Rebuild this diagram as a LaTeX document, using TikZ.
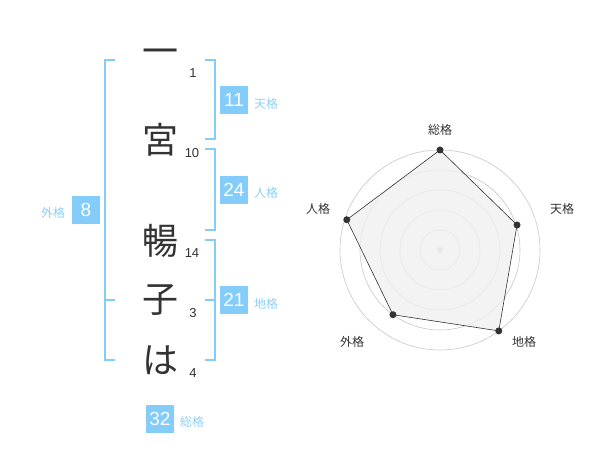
\documentclass[tikz,border=0pt]{standalone}
\usepackage{fontspec}
\setmainfont{Liberation Sans}
\newfontfamily\jpfont{Noto Sans CJK JP}
\usetikzlibrary{calc}
\definecolor{txt}{HTML}{333333}
\definecolor{boxblue}{RGB}{132,204,250}
\definecolor{lblue}{RGB}{140,208,246}

\begin{document}
\begin{tikzpicture}[x=1pt,y=-1pt,
  kanji/.style={font=\jpfont\fontsize{36}{36}\selectfont, text=txt, inner sep=0pt},
  strokes/.style={font=\fontsize{13}{13}\selectfont, text=txt, inner sep=0pt},
  score/.style={fill=boxblue, text=white, minimum size=28pt, inner sep=0pt, font=\fontsize{19}{19}\selectfont},
  kaku/.style={font=\jpfont\fontsize{12}{12}\selectfont, text=lblue, inner sep=0pt},
  brack/.style={draw=boxblue, line width=2pt},
  ring/.style={draw=black!22, line width=0.6pt},
  dot/.style={circle, fill=txt, inner sep=0pt, minimum size=7pt},
  axis/.style={font=\jpfont\fontsize{12}{12}\selectfont, text=txt, inner sep=0pt}]
  \useasboundingbox (0,0) rectangle (600,470);
  % name
  \node[kanji] (k1) at (160,57) {一};
  \node[kanji] (k2) at (160,140) {宮};
  \node[kanji] (k3) at (160,241) {暢};
  \node[kanji] (k4) at (160,300) {子};
  \node[kanji] (k5) at (160,360) {は};
  \node[strokes] (s1) at (193,73) {1};
  \node[strokes] (s2) at (192,153) {10};
  \node[strokes] (s3) at (192,253) {14};
  \node[strokes] (s4) at (193,313) {3};
  \node[strokes] (s5) at (193,373) {4};
  % brackets
  \draw[brack] (115,60) -- (105,60) -- (105,360) -- (115,360);
  \draw[brack] (105,300) -- (115,300);
  \draw[brack] (205,60) -- (215,60) -- (215,139) -- (205,139);
  \draw[brack] (205,149) -- (215,149) -- (215,230) -- (205,230);
  \draw[brack] (205,240) -- (215,240) -- (215,360) -- (205,360);
  \draw[brack] (205,300) -- (215,300);
  % scores
  \node[score] (b1) at (86,210) {8};
  \node[kaku] (l1) at (53,213) {外格};
  \node[score] (b2) at (234,100) {11};
  \node[kaku] (l2) at (266,104) {天格};
  \node[score] (b3) at (234,190) {24};
  \node[kaku] (l3) at (266,193) {人格};
  \node[score] (b4) at (234,300) {21};
  \node[kaku] (l4) at (266,304) {地格};
  \node[score] (b5) at (160,419) {32};
  \node[kaku] (l5) at (192,422) {総格};
  % radar
  \coordinate (0) at (440,250);
  \draw[ring] (0) circle (20);
  \draw[ring] (0) circle (40);
  \draw[ring] (0) circle (60);
  \draw[ring] (0) circle (80);
  \draw[ring] (0) circle (100);
  \node[circle, fill=black!22, inner sep=0pt, minimum size=6pt] (c) at (0) {};
  \coordinate (1) at ($(0)+(-90:100)$);
  \coordinate (2) at ($(0)+(-18:81)$);
  \coordinate (3) at ($(0)+(54:100)$);
  \coordinate (4) at ($(0)+(126:80)$);
  \coordinate (5) at ($(0)+(198:98)$);
  \draw[fill=black!6, fill opacity=0.8, line width=0.6pt, draw=txt]
    (1) -- (2) -- (3) -- (4) -- (5) -- cycle;
  \node[dot] (d1) at (1) {};
  \node[dot] (d2) at (2) {};
  \node[dot] (d3) at (3) {};
  \node[dot] (d4) at (4) {};
  \node[dot] (d5) at (5) {};
  \node[axis] (a1) at (440,130) {総格};
  \node[axis] (a2) at (562,209) {天格};
  \node[axis] (a3) at (524,342) {地格};
  \node[axis] (a4) at (352,342) {外格};
  \node[axis] (a5) at (318,209) {人格};
\end{tikzpicture}
\end{document}
